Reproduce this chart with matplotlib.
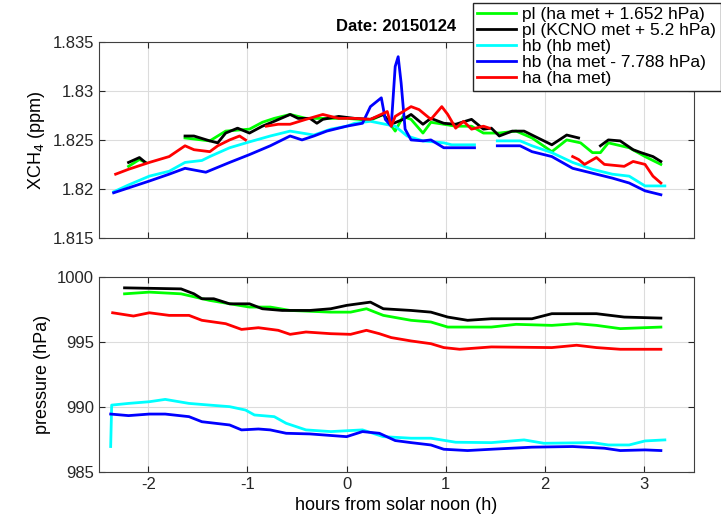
import numpy as np
import matplotlib.pyplot as plt

plt.rcParams['font.family'] = ['Liberation Sans', 'DejaVu Sans']
nan = np.nan

# ---- XCH4 (ppm), top panel ----
pl_ha_x = [-2.20, -2.09, -2.03, nan, -1.63, -1.38, -1.22, -0.98, -0.85, -0.73, -0.57, -0.41, -0.24, 0.0, 0.24, 0.37,
           0.49, 0.57, 0.65, 0.77, 0.85, 0.98, 1.10, 1.26, 1.38, 1.54, 1.71, 1.87, 2.07, 2.22, 2.36, 2.48, 2.56,
           2.64, 2.85, 3.01, 3.17]
pl_ha_y = [1.8223, 1.8230, 1.8227, nan, 1.8252, 1.8249, 1.8259, 1.8261, 1.8268, 1.8272, 1.8276, 1.8272, 1.8272,
           1.8272, 1.8270, 1.8276, 1.8259, 1.8274, 1.8271, 1.8257, 1.8268, 1.8266, 1.8264, 1.8264, 1.8257,
           1.8257, 1.8259, 1.8252, 1.8238, 1.8250, 1.8247, 1.8237, 1.8237, 1.8247, 1.8242, 1.8233, 1.8225]

pl_kcno_x = [-2.20, -2.09, -2.03, nan, -1.63, -1.54, -1.38, -1.30, -1.22, -1.10, -0.98, -0.85, -0.73, -0.57, -0.49,
             -0.37, -0.30, -0.24, -0.08, 0.08, 0.24, 0.37, 0.45, 0.57, 0.65, 0.77, 0.85, 0.98, 1.10, 1.26,
             1.38, 1.46, 1.54, 1.67, 1.79, 1.87, 2.07, 2.22, 2.34, nan, 2.56, 2.64, 2.76, 2.89, 2.97, 3.09, 3.17]
pl_kcno_y = [1.8227, 1.8232, 1.8227, nan, 1.8254, 1.8254, 1.8249, 1.8247, 1.8257, 1.8262, 1.8257, 1.8264,
             1.8269, 1.8276, 1.8272, 1.8272, 1.8267, 1.8271, 1.8274, 1.8272, 1.8271, 1.8276, 1.8266, 1.8271,
             1.8276, 1.8266, 1.8272, 1.8267, 1.8266, 1.8271, 1.8261, 1.8262, 1.8254, 1.8259, 1.8259, 1.8255,
             1.8245, 1.8255, 1.8252, nan, 1.8244, 1.8250, 1.8249, 1.8240, 1.8237, 1.8233, 1.8228]

hb_hb_x = [-2.35, -2.20, -1.99, -1.79, -1.63, -1.46, -1.38, -1.18, -0.98, -0.77, -0.57, -0.45, -0.33, -0.16,
           0.0, 0.08, 0.24, 0.49, 0.61, 0.77, 0.98, 1.06, 1.29, nan, 1.52, 1.75, 1.87, 2.07, 2.28, 2.48, 2.68,
           2.85, 3.01, 3.21]
hb_hb_y = [1.8197, 1.8204, 1.8213, 1.8218, 1.8227, 1.8229, 1.8233, 1.8242, 1.8248, 1.8254, 1.8259, 1.8257,
           1.8255, 1.8261, 1.8264, 1.8267, 1.8269, 1.8264, 1.8254, 1.8249, 1.8247, 1.8245, 1.8245, nan,
           1.8249, 1.8249, 1.8244, 1.8237, 1.8227, 1.8220, 1.8215, 1.8213, 1.8203, 1.8203]

hb_ha_x = [-2.35, -2.20, -1.99, -1.79, -1.63, -1.42, -1.18, -0.98, -0.77, -0.57, -0.45, -0.33, -0.20, 0.0, 0.16,
           0.24, 0.35, 0.39, 0.45, 0.49, 0.52, 0.55, 0.59, 0.65, 0.77, 0.85, 0.98, 1.06, 1.29, nan, 1.52, 1.75,
           1.87, 2.07, 2.28, 2.48, 2.68, 2.85, 3.01, 3.17]
hb_ha_y = [1.8196, 1.8201, 1.8208, 1.8215, 1.8221, 1.8217, 1.8227, 1.8235, 1.8244, 1.8254, 1.8250, 1.8254,
           1.8259, 1.8264, 1.8267, 1.8284, 1.8293, 1.8271, 1.8264, 1.8325, 1.8335, 1.8308, 1.8261, 1.8250,
           1.8249, 1.8250, 1.8242, 1.8242, 1.8242, nan, 1.8244, 1.8244, 1.8238, 1.8233, 1.8221, 1.8216,
           1.8211, 1.8206, 1.8198, 1.8194]

ha_ha_x = [-2.33, -2.20, -1.99, -1.79, -1.63, -1.54, -1.38, -1.30, -1.18, -1.08, -1.02, nan, -0.81, -0.69,
           -0.57, -0.41, -0.24, -0.08, 0.08, 0.24, 0.41, 0.45, 0.49, 0.57, 0.65, 0.73, 0.85, 0.96, 1.02, 1.10,
           1.18, 1.26, 1.38, 1.44, nan, 2.28, 2.34, 2.40, 2.52, 2.60, 2.80, 2.89, 3.01, 3.09, 3.17]
ha_ha_y = [1.8215, 1.8220, 1.8227, 1.8233, 1.8244, 1.8240, 1.8238, 1.8244, 1.8250, 1.8254, 1.8250, nan,
           1.8264, 1.8266, 1.8266, 1.8271, 1.8276, 1.8272, 1.8272, 1.8271, 1.8279, 1.8264, 1.8274, 1.8279,
           1.8284, 1.8281, 1.8271, 1.8284, 1.8276, 1.8262, 1.8269, 1.8261, 1.8264, 1.8262, nan,
           1.8233, 1.8230, 1.8225, 1.8232, 1.8225, 1.8223, 1.8228, 1.8225, 1.8213, 1.8206]

# ---- pressure (hPa), bottom panel ----
p_pl_ha_x = [-2.24, -1.99, -1.67, -1.38, -0.98, -0.77, -0.57, -0.16, 0.04, 0.20, 0.37, 0.65, 0.85, 1.02, 1.46,
             1.71, 2.07, 2.32, 2.52, 2.76, 3.17]
p_pl_ha_y = [998.72, 998.85, 998.72, 998.21, 997.70, 997.70, 997.44, 997.31, 997.31, 997.57, 997.06, 996.68,
             996.55, 996.16, 996.16, 996.37, 996.29, 996.42, 996.29, 996.04, 996.16]

p_kcno_x = [-2.24, -1.67, -1.54, -1.46, -1.34, -1.18, -0.98, -0.85, -0.65, -0.37, -0.16, 0.0, 0.24, 0.37,
            0.65, 0.85, 1.02, 1.22, 1.46, 1.87, 2.07, 2.52, 2.80, 3.17]
p_kcno_y = [999.18, 999.10, 998.72, 998.34, 998.34, 997.95, 997.95, 997.57, 997.44, 997.44, 997.57, 997.83,
            998.08, 997.57, 997.44, 997.31, 996.93, 996.68, 996.80, 996.80, 997.19, 997.19, 996.93, 996.85]

p_ha_x = [-2.36, -2.15, -1.99, -1.79, -1.59, -1.46, -1.22, -1.06, -0.89, -0.69, -0.57, -0.41, -0.16, 0.04, 0.20,
          0.33, 0.45, 0.65, 0.85, 0.98, 1.14, 1.46, 2.07, 2.32, 2.52, 2.76, 3.17]
p_ha_y = [997.26, 997.01, 997.26, 997.06, 997.06, 996.68, 996.42, 995.98, 996.11, 995.91, 995.60, 995.78,
          995.65, 995.60, 995.91, 995.65, 995.35, 995.09, 994.88, 994.58, 994.45, 994.63, 994.58, 994.76,
          994.58, 994.45, 994.45]

p_hb_x = [-2.38, -2.37, -2.20, -1.99, -1.83, -1.59, -1.38, -1.18, -1.02, -0.93, -0.73, -0.61, -0.41, -0.16,
          0.16, 0.37, 0.65, 0.85, 1.10, 1.46, 1.79, 1.99, 2.48, 2.64, 2.85, 3.01, 3.21]
p_hb_y = [986.96, 990.15, 990.28, 990.41, 990.59, 990.28, 990.15, 990.03, 989.77, 989.39, 989.26, 988.75,
          988.24, 988.11, 988.24, 987.72, 987.60, 987.60, 987.29, 987.26, 987.47, 987.21, 987.26, 987.08,
          987.08, 987.39, 987.47]

p_hb_ha_x = [-2.38, -2.20, -1.99, -1.83, -1.59, -1.46, -1.18, -1.06, -0.89, -0.77, -0.61, -0.37, 0.0, 0.16, 0.33,
             0.49, 0.65, 0.85, 0.98, 1.22, 1.46, 1.87, 2.28, 2.60, 2.76, 3.01, 3.17]
p_hb_ha_y = [989.46, 989.34, 989.46, 989.46, 989.26, 988.87, 988.62, 988.24, 988.31, 988.24, 987.98, 987.93,
             987.72, 988.11, 987.98, 987.42, 987.26, 987.08, 986.75, 986.65, 986.75, 986.91, 986.96, 986.83,
             986.65, 986.70, 986.65]

fig = plt.figure(figsize=(7.21, 5.25), dpi=100)
ax1 = fig.add_axes([0.137, 0.547, 0.825, 0.373])
ax2 = fig.add_axes([0.137, 0.101, 0.825, 0.371])

lw = 2
ax1.plot(pl_ha_x, pl_ha_y, color=(0, 1, 0), lw=lw, label='pl (ha met + 1.652 hPa)')
ax1.plot(pl_kcno_x, pl_kcno_y, color='k', lw=lw, label='pl (KCNO met + 5.2 hPa)')
ax1.plot(hb_hb_x, hb_hb_y, color=(0, 1, 1), lw=lw, label='hb (hb met)')
ax1.plot(hb_ha_x, hb_ha_y, color=(0, 0, 1), lw=lw, label='hb (ha met - 7.788 hPa)')
ax1.plot(ha_ha_x, ha_ha_y, color=(1, 0, 0), lw=lw, label='ha (ha met)')

ax2.plot(p_pl_ha_x, p_pl_ha_y, color=(0, 1, 0), lw=lw)
ax2.plot(p_kcno_x, p_kcno_y, color='k', lw=lw)
ax2.plot(p_ha_x, p_ha_y, color=(1, 0, 0), lw=lw)
ax2.plot(p_hb_x, p_hb_y, color=(0, 1, 1), lw=lw)
ax2.plot(p_hb_ha_x, p_hb_ha_y, color=(0, 0, 1), lw=lw)

for ax in (ax1, ax2):
    ax.set_xlim(-2.5, 3.5)
    ax.set_xticks([-2, -1, 0, 1, 2, 3])
    ax.grid(True, color='#dcdcdc', lw=0.8)
    ax.tick_params(direction='in', labelsize=12, top=True, right=True, length=4, colors='#262626')
    for s in ax.spines.values():
        s.set_color('#404040')

ax1.set_ylim(1.815, 1.835)
ax1.set_yticks([1.815, 1.82, 1.825, 1.83, 1.835])
ax1.set_yticklabels(['1.815', '1.82', '1.825', '1.83', '1.835'])
ax1.set_xticklabels([])
ax1.set_ylabel('XCH$_4$ (ppm)', fontsize=13)
ax1.set_title('Date: 20150124', fontsize=12, fontweight='bold', pad=8)

ax2.set_ylim(985, 1000)
ax2.set_yticks([985, 990, 995, 1000])
ax2.set_xticklabels(['-2', '-1', '0', '1', '2', '3'])
ax2.set_ylabel('pressure (hPa)', fontsize=13)
ax2.set_xlabel('hours from solar noon (h)', fontsize=13)

fig.legend(loc='upper left', bbox_to_anchor=(0.656, 0.995), fontsize=12.5, frameon=True, fancybox=False,
           edgecolor='#262626', framealpha=1, borderpad=0.25, labelspacing=0.05, handlelength=2.2,
           handletextpad=0.4, borderaxespad=0)

fig.savefig('out.png', dpi=100)
